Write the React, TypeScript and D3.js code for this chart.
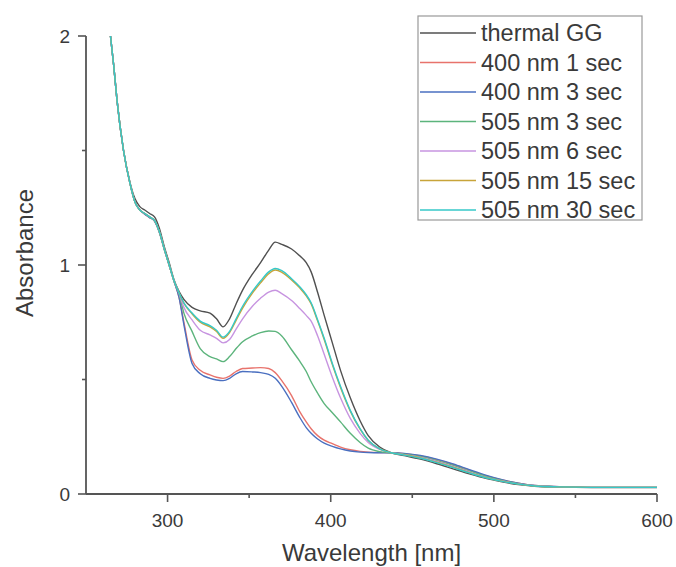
import React from "react";
import * as d3 from "d3";

const wavelengths = [265,267,269,273,277,280,283,286,289,292,295,298,301,304,307,310,315,320,326,330,334,338,342,346,352,357,362,366,370,376,381,385,388,392,396,401,406,412,418,423,430,437,445,455,465,475,485,495,505,515,525,540,560,580,600];

const thermalGG = [2.00,1.87,1.72,1.50,1.36,1.29,1.255,1.24,1.225,1.21,1.16,1.08,1.01,0.935,0.885,0.85,0.815,0.80,0.79,0.765,0.73,0.765,0.83,0.89,0.96,1.01,1.065,1.10,1.09,1.07,1.04,1.01,0.97,0.88,0.78,0.66,0.54,0.42,0.32,0.255,0.205,0.18,0.168,0.152,0.132,0.11,0.088,0.068,0.053,0.041,0.034,0.030,0.028,0.028,0.028];
const nm400s1 = [2.00,1.87,1.72,1.50,1.355,1.275,1.24,1.222,1.207,1.192,1.142,1.068,0.998,0.928,0.86,0.75,0.585,0.54,0.52,0.51,0.505,0.515,0.535,0.548,0.55,0.552,0.548,0.53,0.495,0.43,0.36,0.315,0.285,0.255,0.235,0.22,0.205,0.193,0.186,0.183,0.181,0.18,0.176,0.166,0.15,0.129,0.104,0.08,0.061,0.047,0.037,0.032,0.029,0.029,0.029];
const nm400s3 = [2.00,1.87,1.72,1.50,1.355,1.275,1.24,1.222,1.207,1.192,1.142,1.068,0.998,0.928,0.86,0.74,0.57,0.525,0.505,0.498,0.495,0.505,0.525,0.535,0.533,0.53,0.522,0.505,0.47,0.40,0.335,0.29,0.265,0.24,0.222,0.208,0.197,0.188,0.183,0.181,0.18,0.18,0.177,0.168,0.152,0.131,0.106,0.082,0.062,0.047,0.037,0.032,0.029,0.029,0.029];
const nm505s3 = [2.00,1.87,1.72,1.50,1.355,1.275,1.24,1.225,1.21,1.195,1.145,1.07,1.00,0.93,0.875,0.79,0.71,0.635,0.60,0.59,0.578,0.60,0.635,0.665,0.69,0.705,0.712,0.71,0.69,0.63,0.58,0.535,0.49,0.44,0.395,0.355,0.315,0.265,0.225,0.20,0.185,0.18,0.174,0.163,0.146,0.125,0.10,0.077,0.059,0.045,0.036,0.031,0.029,0.029,0.029];
const nm505s6 = [2.00,1.87,1.72,1.50,1.355,1.275,1.24,1.225,1.21,1.195,1.145,1.07,1.00,0.93,0.878,0.815,0.76,0.715,0.695,0.68,0.66,0.675,0.72,0.765,0.82,0.855,0.882,0.89,0.875,0.845,0.81,0.78,0.755,0.69,0.61,0.51,0.42,0.33,0.265,0.225,0.195,0.18,0.172,0.16,0.142,0.12,0.096,0.074,0.057,0.044,0.036,0.031,0.029,0.029,0.029];
const nm505s15 = [2.00,1.87,1.72,1.50,1.355,1.275,1.24,1.225,1.21,1.195,1.145,1.07,1.00,0.93,0.88,0.833,0.787,0.75,0.73,0.71,0.68,0.705,0.758,0.812,0.877,0.922,0.962,0.978,0.968,0.935,0.90,0.865,0.83,0.755,0.675,0.565,0.465,0.362,0.283,0.234,0.197,0.18,0.171,0.158,0.139,0.117,0.093,0.072,0.056,0.043,0.035,0.031,0.029,0.029,0.029];
const nm505s30 = [2.00,1.87,1.72,1.50,1.355,1.275,1.24,1.225,1.21,1.195,1.145,1.07,1.00,0.93,0.88,0.835,0.79,0.755,0.735,0.715,0.685,0.71,0.765,0.82,0.885,0.93,0.97,0.985,0.975,0.94,0.905,0.87,0.835,0.76,0.68,0.57,0.47,0.365,0.285,0.235,0.197,0.18,0.17,0.156,0.137,0.115,0.092,0.071,0.055,0.043,0.035,0.031,0.029,0.029,0.029];

const seriesNames = ["thermal GG","400 nm 1 sec","400 nm 3 sec","505 nm 3 sec","505 nm 6 sec","505 nm 15 sec","505 nm 30 sec"];
const seriesValues = [thermalGG, nm400s1, nm400s3, nm505s3, nm505s6, nm505s15, nm505s30];
const seriesColors = ["#505050","#e8736c","#4a6fc0","#5cb47c","#c794e0","#c8a43a","#36c8c8"];

const xMajorTicks = [300, 400, 500, 600];
const xMinorTicks = [350, 450, 550];
const yMajorTicks = [0, 1, 2];
const yMinorTicks = [0.5, 1.5];

export default function App() {
  const W = 676, H = 567;
  const x = d3.scaleLinear().domain([250, 600]).range([86, 657]);
  const y = d3.scaleLinear().domain([0, 2]).range([494, 36]);
  const line = d3.line<[number, number]>().x(d => x(d[0])).y(d => y(d[1])).curve(d3.curveMonotoneX);
  const font = "Liberation Sans, Arial, sans-serif";
  const axisColor = "#555";
  const textColor = "#3a3a3a";

  return (
    <svg width={W} height={H} style={{ position: "absolute", left: 0, top: 0, background: "#fff" }} fontFamily={font}>
      <rect x={0} y={0} width={W} height={H} fill="#fff" />
      {seriesValues.map((vals, i) => (
        <path key={i} d={line(wavelengths.map((w, j) => [w, vals[j]] as [number, number])) || ""}
          fill="none" stroke={seriesColors[i]} strokeWidth={1.4} />
      ))}
      {/* axes */}
      <line x1={86} x2={86} y1={y(2)} y2={y(0)} stroke={axisColor} strokeWidth={1.8} />
      <line x1={86} x2={x(600)} y1={y(0)} y2={y(0)} stroke={axisColor} strokeWidth={1.8} />
      {yMajorTicks.map(t => (
        <g key={"ym" + t}>
          <line x1={78} x2={86} y1={y(t)} y2={y(t)} stroke={axisColor} strokeWidth={1.6} />
          <text x={70} y={y(t)} dy="0.35em" textAnchor="end" fontSize={19} fill={textColor}>{t}</text>
        </g>
      ))}
      {yMinorTicks.map(t => (
        <line key={"yn" + t} x1={82} x2={86} y1={y(t)} y2={y(t)} stroke={axisColor} strokeWidth={1.6} />
      ))}
      {xMajorTicks.map(t => (
        <g key={"xm" + t}>
          <line x1={x(t)} x2={x(t)} y1={y(0)} y2={y(0) + 8} stroke={axisColor} strokeWidth={1.6} />
          <text x={x(t)} y={527} textAnchor="middle" fontSize={19} fill={textColor}>{t}</text>
        </g>
      ))}
      {xMinorTicks.map(t => (
        <line key={"xn" + t} x1={x(t)} x2={x(t)} y1={y(0)} y2={y(0) + 4} stroke={axisColor} strokeWidth={1.6} />
      ))}
      <text x={(86 + 657) / 2} y={561} textAnchor="middle" fontSize={24} fill={textColor}>Wavelength [nm]</text>
      <text transform={`translate(33, 253) rotate(-90)`} textAnchor="middle" fontSize={24} fill={textColor}>Absorbance</text>
      {/* legend */}
      <rect x={418} y={16} width={224} height={204} fill="#fff" stroke="#999" strokeWidth={1.2} />
      {seriesNames.map((name, i) => {
        const cy = 33 + i * 29.5;
        return (
          <g key={"lg" + i}>
            <line x1={420} x2={476} y1={cy} y2={cy} stroke={seriesColors[i]} strokeWidth={1.4} />
            <text x={481} y={cy} dy="0.35em" fontSize={23.5} fill={textColor}>{name}</text>
          </g>
        );
      })}
    </svg>
  );
}
